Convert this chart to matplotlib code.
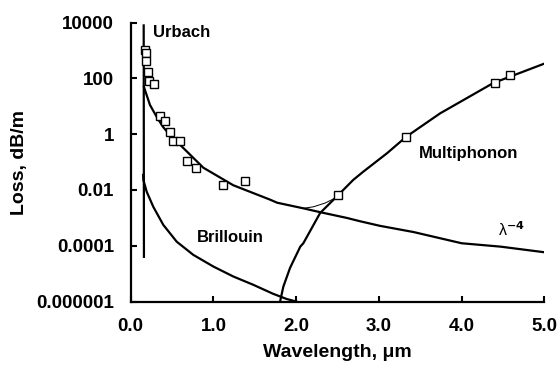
import matplotlib
matplotlib.use("Agg")
import matplotlib.pyplot as plt

plt.rcParams['font.family'] = ['Liberation Sans', 'DejaVu Sans']
plt.rcParams['font.weight'] = 'bold'

# Urbach edge (near-vertical line)
urbach_lam = [0.157, 0.160]
urbach_loss = [8000, 4e-5]

# Total intrinsic curve (lambda^-4 part)
main_lam = [0.160, 0.173, 0.233, 0.314, 0.394, 0.475, 0.596, 0.878, 1.24, 1.685, 1.77,
            2.087, 2.29, 2.61, 2.77, 3.01, 3.42, 4.0, 4.47, 5.01]
main_loss = [50, 38, 11.2, 4.2, 1.78, 0.93, 0.42, 0.063, 0.0148, 0.0045, 0.0035,
             0.0022, 0.0016, 0.0010, 0.00076, 0.00052, 0.00031, 0.000123, 0.000093, 0.000058]

# Measured points on the short-wavelength side
meas_lam = [0.178, 0.185, 0.185, 0.206, 0.221, 0.278, 0.36, 0.42, 0.48, 0.515,
            0.59, 0.685, 0.79, 1.11, 1.385]
meas_loss = [1050, 800, 410, 175, 83, 63, 4.5, 3.1, 1.17, 0.56,
             0.56, 0.107, 0.062, 0.015, 0.021]

# Multiphonon edge
multi_lam = [1.806, 1.845, 1.926, 2.05, 2.087, 2.21, 2.29, 2.49, 2.69, 2.81,
             3.10, 3.33, 3.74, 4.06, 4.38, 5.01]
multi_loss = [1e-6, 3.4e-6, 1.6e-5, 9.3e-5, 1.23e-4, 5.6e-4, 1.5e-3, 5.8e-3, 0.023, 0.045,
              0.21, 0.81, 5.6, 19.5, 68, 350]

# Measured points on the multiphonon side
mmeas_lam = [2.51, 3.33, 4.40, 4.59]
mmeas_loss = [0.0066, 0.81, 71, 134]

# Thin sum curve joining the two
sum_lam = [2.087, 2.21, 2.35, 2.47, 2.51]
sum_loss = [0.0022, 0.0025, 0.0034, 0.0051, 0.0063]

# Brillouin scattering
bril_lam = [0.150, 0.153, 0.193, 0.273, 0.394, 0.556, 0.757, 0.999, 1.24, 1.48, 1.72, 1.886, 2.0]
bril_loss = [0.035, 0.023, 0.0087, 0.0025, 5.6e-4, 1.4e-4, 4.7e-5, 1.8e-5, 7.9e-6, 4.0e-6,
             1.9e-6, 1.23e-6, 1e-6]

xticks = [0, 1, 2, 3, 4, 5]
xticklabels = ["0.0", "1.0", "2.0", "3.0", "4.0", "5.0"]
yticks = [1e4, 1e2, 1, 1e-2, 1e-4, 1e-6]
yticklabels = ["10000", "100", "1", "0.01", "0.0001", "0.000001"]

fig = plt.figure(figsize=(5.6, 3.7), dpi=100)
ax = fig.add_axes([0.2334, 0.1851, 0.7386, 0.7535])

lw = 1.6
ax.plot(urbach_lam, urbach_loss, color='black', lw=lw)
ax.plot(main_lam, main_loss, color='black', lw=lw)
ax.plot(multi_lam, multi_loss, color='black', lw=lw)
ax.plot(sum_lam, sum_loss, color='black', lw=0.7)
ax.plot(bril_lam, bril_loss, color='black', lw=lw)
ax.plot(meas_lam, meas_loss, linestyle='none', marker='s', ms=6.2,
        mfc='white', mec='black', mew=1.0)
ax.plot(mmeas_lam, mmeas_loss, linestyle='none', marker='s', ms=6.2,
        mfc='white', mec='black', mew=1.0)

ax.set_yscale('log')
ax.set_xlim(0, 5)
ax.set_ylim(1e-6, 1e4)
ax.set_xticks(xticks)
ax.set_xticklabels(xticklabels)
ax.set_yticks(yticks)
ax.set_yticklabels(yticklabels)
ax.minorticks_off()
ax.tick_params(direction='in', length=4, width=1.5, labelsize=13.5, pad=12)
for s in ['top', 'right']:
    ax.spines[s].set_visible(False)
for s in ['left', 'bottom']:
    ax.spines[s].set_linewidth(1.6)

ax.set_xlabel("Wavelength, μm", fontsize=14, fontweight='bold', labelpad=6)
ax.set_ylabel("Loss, dB/m", fontsize=14, fontweight='bold', labelpad=6)

ax.text(0.27, 4300, "Urbach", fontsize=12, fontweight='bold', va='center', ha='left')
ax.text(1.2, 1.9e-4, "Brillouin", fontsize=12, fontweight='bold', va='center', ha='center')
ax.text(4.08, 0.21, "Multiphonon", fontsize=12, fontweight='bold', va='center', ha='center')
ax.text(4.6, 3.7e-4, r"λ$^{\mathbf{-4}}$", fontsize=11.5, fontweight='normal', va='center', ha='center')

fig.savefig("out.png", dpi=100)
